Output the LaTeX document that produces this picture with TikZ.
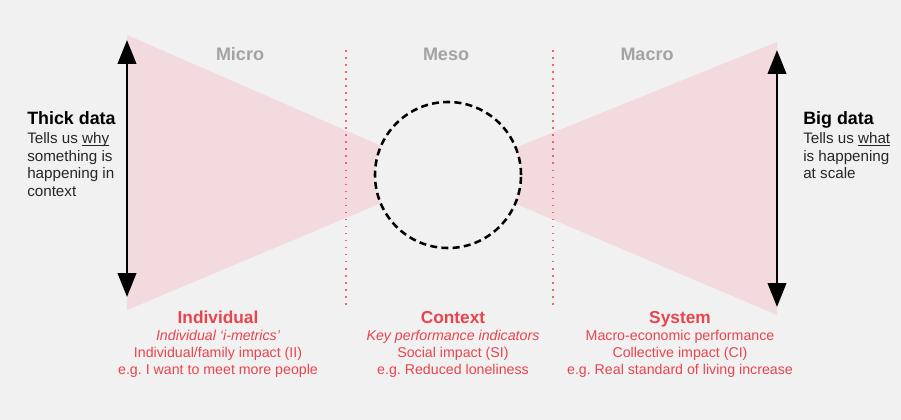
\documentclass[tikz,border=0pt]{standalone}
\usepackage{fontspec}
\setmainfont{Liberation Sans}
\usetikzlibrary{arrows.meta,positioning}
\definecolor{slideBg}{RGB}{241,241,241}
\definecolor{wedgePink}{RGB}{243,218,222}
\definecolor{scaleGrey}{RGB}{163,163,163}
\definecolor{impactRed}{RGB}{232,68,78}
\definecolor{dividerRed}{RGB}{240,98,110}
\newcommand{\keyword}[1]{\underline{\smash{#1}}}

\begin{document}
\begin{tikzpicture}[x=0.025cm, y=-0.025cm,
    wedge/.style={fill=wedgePink},
    divider/.style={draw=dividerRed, line width=1.1pt, dash pattern=on 1.1pt off 3.9pt},
    hubring/.style={circle, draw=black, fill=slideBg, line width=1.8pt, dash pattern=on 5pt off 3pt, minimum size=3.65cm, inner sep=0pt},
    datarrow/.style={line width=2pt, {Triangle[width=13pt,length=17pt]}-{Triangle[width=13pt,length=17pt]}},
    scalelabel/.style={font=\fontsize{12.8}{14}\selectfont\bfseries\color{scaleGrey}, anchor=base, inner sep=0pt},
    datahead/.style={font=\fontsize{12.7}{14}\selectfont\bfseries, anchor=base west, inner sep=0pt},
    databody/.style={font=\fontsize{10.8}{12.5}\selectfont\color{black!85}, align=left, anchor=north west, inner sep=0pt},
    levelhead/.style={font=\fontsize{12.3}{14}\selectfont\bfseries\color{impactRed}, anchor=base, inner sep=0pt},
    levelbody/.style={font=\fontsize{10.1}{12}\selectfont\color{impactRed}, align=center, anchor=north, inner sep=0pt}]
  \fill[slideBg] (0,0) rectangle (901,420);
  \useasboundingbox (0,0) rectangle (901,420);

  % bow tie
  \coordinate (hubc) at (448,175);
  \coordinate (lefttop) at (127,35);
  \coordinate (leftbot) at (127,310);
  \coordinate (righttop) at (777,42);
  \coordinate (rightbot) at (777,315);
  \fill[wedge] (lefttop) -- (hubc) -- (leftbot) -- cycle;
  \fill[wedge] (righttop) -- (hubc) -- (rightbot) -- cycle;

  \coordinate (divAtop) at (346,50);
  \coordinate (divAbot) at (346,307);
  \coordinate (divBtop) at (553,50);
  \coordinate (divBbot) at (553,307);
  \draw[divider] (divAtop) -- (divAbot);
  \draw[divider] (divBtop) -- (divBbot);

  \node[hubring] (hub) at (hubc) {};

  % arrows
  \coordinate (thicktop) at (127,40);
  \coordinate (thickbot) at (127,297);
  \coordinate (bigtop) at (777,50);
  \coordinate (bigbot) at (777,307);
  \draw[datarrow] (thicktop) -- (thickbot);
  \draw[datarrow] (bigtop) -- (bigbot);

  \node[scalelabel] (micro) at (240,61) {Micro};
  \node[scalelabel] (meso) at (446,61) {Meso};
  \node[scalelabel] (macro) at (647,61) {Macro};

  \node[datahead] (thick) at (27,124) {Thick data};
  \node[databody] (thickwhy) at (27,132.5) {Tells us \keyword{why}\\something is\\happening in\\context};
  \node[datahead] (big) at (803,124) {Big data};
  \node[databody] (bigwhat) at (803,132.5) {Tells us \keyword{what}\\is happening\\at scale};

  \node[levelhead] (indiv) at (218,323) {Individual};
  \node[levelbody] (indivtxt) at (218,330) {\itshape Individual `i-metrics'\\Individual/family impact (II)\\e.g.\ I want to meet more people};
  \node[levelhead] (context) at (453,323) {Context};
  \node[levelbody] (contexttxt) at (453,330) {\itshape Key performance indicators\\Social impact (SI)\\e.g.\ Reduced loneliness};
  \node[levelhead] (system) at (680,323) {System};
  \node[levelbody] (systemtxt) at (680,330) {Macro-economic performance\\Collective impact (CI)\\e.g.\ Real standard of living increase};
\end{tikzpicture}
\end{document}
